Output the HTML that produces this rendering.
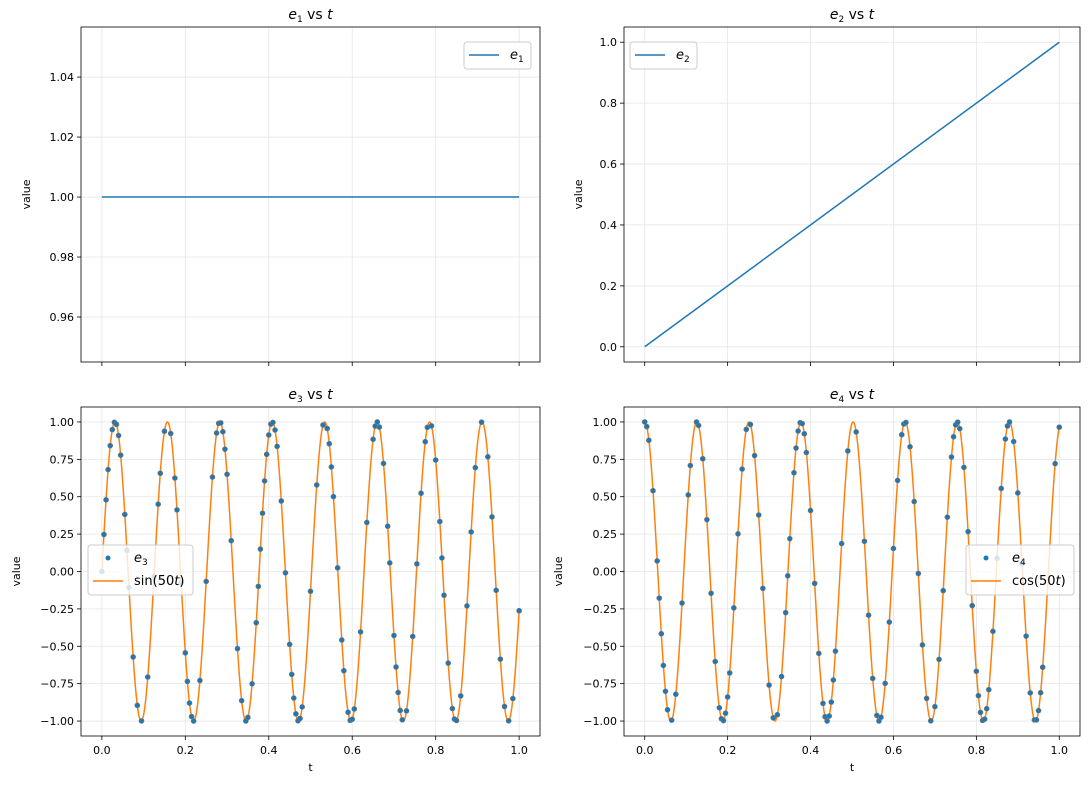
<!DOCTYPE html>
<html><head><meta charset="utf-8"><style>
body{margin:0;background:#fff;font-family:"Liberation Sans","DejaVu Sans",sans-serif}
svg text{font-family:"DejaVu Sans","Liberation Sans",sans-serif}
</style></head><body>
<svg id="c" width="1089" height="789"></svg>
<script>
const e1Values=[1,1];
const e2Values=[0,1];
const lineT=[0,1];
const e3PointT=[0,0.005,0.01,0.015,0.02,0.025,0.03,0.035,0.04,0.045,0.055,0.06,0.065,0.075,0.085,0.095,0.11,0.125,0.135,0.14,0.15,0.165,0.175,0.18,0.19,0.2,0.205,0.21,0.215,0.22,0.235,0.25,0.265,0.275,0.28,0.285,0.29,0.295,0.3,0.31,0.325,0.335,0.345,0.35,0.36,0.37,0.375,0.38,0.385,0.39,0.395,0.4,0.405,0.41,0.415,0.42,0.43,0.44,0.45,0.455,0.46,0.465,0.47,0.475,0.48,0.5,0.515,0.53,0.54,0.545,0.55,0.555,0.565,0.575,0.58,0.59,0.595,0.6,0.605,0.62,0.635,0.65,0.655,0.66,0.665,0.675,0.685,0.69,0.7,0.705,0.71,0.715,0.72,0.73,0.745,0.755,0.765,0.775,0.78,0.79,0.8,0.81,0.815,0.82,0.83,0.84,0.845,0.85,0.86,0.875,0.885,0.895,0.91,0.925,0.935,0.945,0.955,0.965,0.975,0.985,1.0];
const e4PointT=[0,0.005,0.01,0.02,0.03,0.035,0.04,0.045,0.05,0.055,0.065,0.075,0.09,0.105,0.11,0.125,0.13,0.14,0.15,0.16,0.17,0.18,0.185,0.19,0.195,0.2,0.205,0.215,0.225,0.235,0.245,0.255,0.265,0.275,0.285,0.3,0.31,0.32,0.33,0.34,0.345,0.35,0.36,0.365,0.37,0.375,0.38,0.385,0.39,0.4,0.41,0.42,0.43,0.435,0.44,0.445,0.45,0.455,0.46,0.475,0.49,0.51,0.53,0.54,0.55,0.56,0.565,0.57,0.58,0.59,0.6,0.61,0.62,0.625,0.63,0.64,0.65,0.66,0.67,0.68,0.69,0.7,0.71,0.72,0.73,0.74,0.745,0.75,0.755,0.76,0.77,0.78,0.79,0.8,0.805,0.81,0.815,0.82,0.825,0.83,0.84,0.85,0.86,0.87,0.875,0.88,0.89,0.9,0.91,0.92,0.93,0.94,0.945,0.95,0.955,0.96,0.99,1.0];
const xTicks=[0,0.2,0.4,0.6,0.8,1.0];
const yTicks1=[0.96,0.98,1.00,1.02,1.04];
const yTicks2=[0,0.2,0.4,0.6,0.8,1.0];
const yTicks3=[-1,-0.75,-0.5,-0.25,0,0.25,0.5,0.75,1];
const NS="http://www.w3.org/2000/svg",svg=document.getElementById('c');
function el(t,a,p){const e=document.createElementNS(NS,t);for(const k in a)e.setAttribute(k,a[k]);(p||svg).appendChild(e);return e;}
function txt(s,x,y,anchor,size,p){const e=el('text',{x:x,y:y,'text-anchor':anchor,'font-size':size||12,fill:'#000'},p);e.innerHTML=s;return e;}
function panel(o){
 const g=el('g',{});
 const X=t=>o.x0+(t-o.tmin)/(o.tmax-o.tmin)*(o.x1-o.x0);
 const Y=v=>o.y1-(v-o.vmin)/(o.vmax-o.vmin)*(o.y1-o.y0);
 xTicks.forEach(t=>{el('line',{x1:X(t),x2:X(t),y1:o.y0,y2:o.y1,stroke:'#e6e6e6','stroke-width':0.8},g);
  el('line',{x1:X(t),x2:X(t),y1:o.y1,y2:o.y1+4,stroke:'#000','stroke-width':0.8},g);
  if(o.xlab){const e=txt(t.toFixed(1),X(t),o.y1+18,'middle',11,g);}});
 o.yt.forEach(v=>{el('line',{x1:o.x0,x2:o.x1,y1:Y(v),y2:Y(v),stroke:'#e6e6e6','stroke-width':0.8},g);
  el('line',{x1:o.x0-4,x2:o.x0,y1:Y(v),y2:Y(v),stroke:'#000','stroke-width':0.8},g);
  const e=txt(v.toFixed(o.dec).replace('-','\u2212'),o.x0-7,Y(v)+4,'end',11,g);});
 o.draw(g,X,Y);
 el('rect',{x:o.x0,y:o.y0,width:o.x1-o.x0,height:o.y1-o.y0,fill:'none',stroke:'#000','stroke-width':0.8},g);
 const ti=txt(o.title,(o.x0+o.x1)/2,o.y0-8,'middle',14,g);
 const yl=txt('value',0,0,'middle',11,g);yl.setAttribute('transform',`translate(${o.ylx},${(o.y0+o.y1)/2}) rotate(-90)`);
 
 if(o.xlab){const xl=txt('t',(o.x0+o.x1)/2,o.y1+35,'middle',11,g);}
 const L=el('g',{},g);
 const lh=o.leg.length*23+4;
 el('rect',{x:o.lx,y:o.ly,width:o.lw,height:lh,rx:3,fill:'#fff','fill-opacity':0.8,stroke:'#ccc'},L);
 o.leg.forEach((it,i)=>{const cy=o.ly+13+i*23;
  if(it.dot)el('circle',{cx:o.lx+20,cy:cy,r:2.5,fill:'#1f77b4'},L);
  else el('line',{x1:o.lx+5,x2:o.lx+35,y1:cy,y2:cy,stroke:it.c,'stroke-width':1.5},L);
  txt(it.s,o.lx+46,cy+4,'start',13,L);});
}
function line(g,X,Y,ts,vs,c,name){const p=el('polyline',{points:ts.map((t,i)=>X(t)+','+Y(vs[i])).join(' '),fill:'none',stroke:c,'stroke-width':1.5},g);
 }
function curve(g,X,Y,f,name){const ts=[],vs=[];for(let i=0;i<=1000;i++){ts.push(i/1000);vs.push(f(i/1000));}line(g,X,Y,ts,vs,'#ff7f0e',name);}
function dots(g,X,Y,ts,f){ts.forEach(t=>{const d=el('circle',{cx:X(t),cy:Y(f(t)),r:2.5,fill:'#1f77b4',stroke:'#777','stroke-width':0.6},g);
 });}
const sub=s=>`<tspan font-style="italic">e</tspan><tspan font-size="9" dy="3">${s}</tspan>`;
const ttl=s=>`${sub(s)}<tspan dy="-3"> vs </tspan><tspan font-style="italic">t</tspan>`;
const xr={tmin:-0.05,tmax:1.05};
panel(Object.assign({name:'panel-e1',x0:81,x1:540,y0:27,y1:362,vmin:0.945,vmax:1.0567,yt:yTicks1,dec:2,ylx:30,title:ttl(1),xlab:false,
 lx:464,ly:42,lw:67,leg:[{c:'#1f77b4',s:sub(1)}],draw:(g,X,Y)=>line(g,X,Y,lineT,e1Values,'#1f77b4','e1-line')},xr));
panel(Object.assign({name:'panel-e2',x0:624,x1:1080,y0:27,y1:362,vmin:-0.05,vmax:1.05,yt:yTicks2,dec:1,ylx:582,title:ttl(2),xlab:false,
 lx:630,ly:42,lw:67,leg:[{c:'#1f77b4',s:sub(2)}],draw:(g,X,Y)=>line(g,X,Y,lineT,e2Values,'#1f77b4','e2-line')},xr));
panel(Object.assign({name:'panel-e3',x0:81,x1:540,y0:407,y1:736,vmin:-1.1,vmax:1.1,yt:yTicks3,dec:2,ylx:20,title:ttl(3),xlab:true,
 lx:88,ly:545,lw:105,leg:[{dot:1,s:sub(3)},{c:'#ff7f0e',s:'sin(50<tspan font-style="italic">t</tspan>)'}],
 draw:(g,X,Y)=>{curve(g,X,Y,t=>Math.sin(50*t),'sin-curve');dots(g,X,Y,e3PointT,t=>Math.sin(50*t));}},xr));
panel(Object.assign({name:'panel-e4',x0:624,x1:1080,y0:407,y1:736,vmin:-1.1,vmax:1.1,yt:yTicks3,dec:2,ylx:562,title:ttl(4),xlab:true,
 lx:966,ly:545,lw:108,leg:[{dot:1,s:sub(4)},{c:'#ff7f0e',s:'cos(50<tspan font-style="italic">t</tspan>)'}],
 draw:(g,X,Y)=>{curve(g,X,Y,t=>Math.cos(50*t),'cos-curve');dots(g,X,Y,e4PointT,t=>Math.cos(50*t));}},xr));
</script></body></html>
